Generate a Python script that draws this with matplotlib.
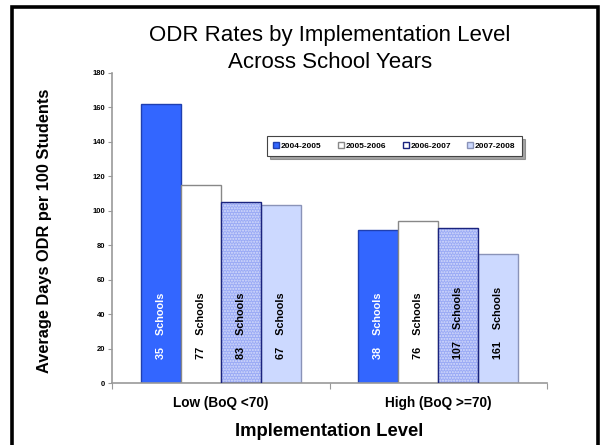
import matplotlib
matplotlib.use("Agg")
import matplotlib.pyplot as plt
import numpy as np

plt.rcParams['font.family'] = ['Liberation Sans', 'DejaVu Sans']

categories = ["Low (BoQ <70)", "High (BoQ >=70)"]
years = ["2004-2005", "2005-2006", "2006-2007", "2007-2008"]
odr_rates = {
    "2004-2005": [162, 89],
    "2005-2006": [115, 94],
    "2006-2007": [105, 90],
    "2007-2008": [103, 75],
}
school_counts = {
    "2004-2005": [35, 38],
    "2005-2006": [77, 76],
    "2006-2007": [83, 107],
    "2007-2008": [67, 161],
}
y_ticks = list(range(0, 181, 20))

faces = ["#3366FF", "#FFFFFF", "#9AAAF5", "#CCD9FF"]
edges = ["#1F3FB0", "#888888", "#1A237E", "#8A93B8"]
text_colors = ["white", "black", "black", "black"]

fig = plt.figure(figsize=(6.02, 4.45), dpi=100)
ax = fig.add_axes([0.186, 0.1393, 0.7227, 0.6973])

x = np.arange(len(categories))
w = 0.184
for i, yr in enumerate(years):
    pos = x + (i - 1.5) * w
    if yr == "2006-2007":
        ax.bar(pos, odr_rates[yr], width=w, color=faces[i], edgecolor="#D6DDFB",
               linewidth=0, hatch="......", zorder=2)
        ax.bar(pos, odr_rates[yr], width=w, fill=False, edgecolor=edges[i],
               linewidth=1.0, zorder=3, label=yr)
    else:
        ax.bar(pos, odr_rates[yr], width=w, color=faces[i], edgecolor=edges[i],
               linewidth=1.0, zorder=2, label=yr)
    for p, n in zip(pos, school_counts[yr]):
        ax.text(p, 14, f"{n}    Schools", rotation=90, ha="center", va="bottom",
                fontsize=7.8, fontweight="bold", color=text_colors[i], zorder=4)

ax.set_xlim(-0.5, 1.5)
ax.set_ylim(0, 180)
ax.set_yticks(y_ticks)
ax.set_yticklabels([str(t) for t in y_ticks], fontsize=5.5, fontweight="bold")
ax.set_xticks([-0.5, 0.5, 1.5])
ax.set_xticklabels([])
ax.set_xticks(x, minor=True)
ax.set_xticklabels(categories, minor=True, fontsize=9.8, fontweight="bold")
ax.tick_params(axis="x", which="minor", length=0, pad=9)
ax.tick_params(axis="x", which="major", length=4, color="#999999")
ax.tick_params(axis="y", length=3, color="#999999", pad=2)
for s in ["top", "right"]:
    ax.spines[s].set_visible(False)
for s in ["left", "bottom"]:
    ax.spines[s].set_color("#999999")
    ax.spines[s].set_linewidth(1.2)

ax.set_ylabel("Average Days ODR per 100 Students", fontsize=11.8, fontweight="bold")
ax.yaxis.set_label_coords(-0.138, 0.49)
ax.set_xlabel("Implementation Level", fontsize=13.3, fontweight="bold", labelpad=10)

fig.text(0.548, 0.944, "ODR Rates by Implementation Level\nAcross School Years",
         ha="center", va="top", fontsize=16, linespacing=1.38)

leg = ax.legend(loc="upper left", bbox_to_anchor=(0.347, 0.809), ncol=4,
                frameon=True, fancybox=False, shadow=True, handlelength=0.7,
                handleheight=0.7, handletextpad=0.2, columnspacing=2.0,
                borderpad=0.75, prop={"weight": "bold", "size": 6})
leg.get_frame().set_edgecolor("#444444")
leg.get_frame().set_linewidth(0.8)

# open-bottomed black frame around the chart
fx0, fx1, fy1 = 11.5 / 602, 597.5 / 602, 1 - 6.5 / 445
fig.lines.append(plt.Line2D([fx0, fx0, fx1, fx1], [-0.05, fy1, fy1, -0.05],
                            transform=fig.transFigure, color="black", linewidth=2.6,
                            solid_joinstyle="miter"))

fig.savefig("out.png", dpi=100)
